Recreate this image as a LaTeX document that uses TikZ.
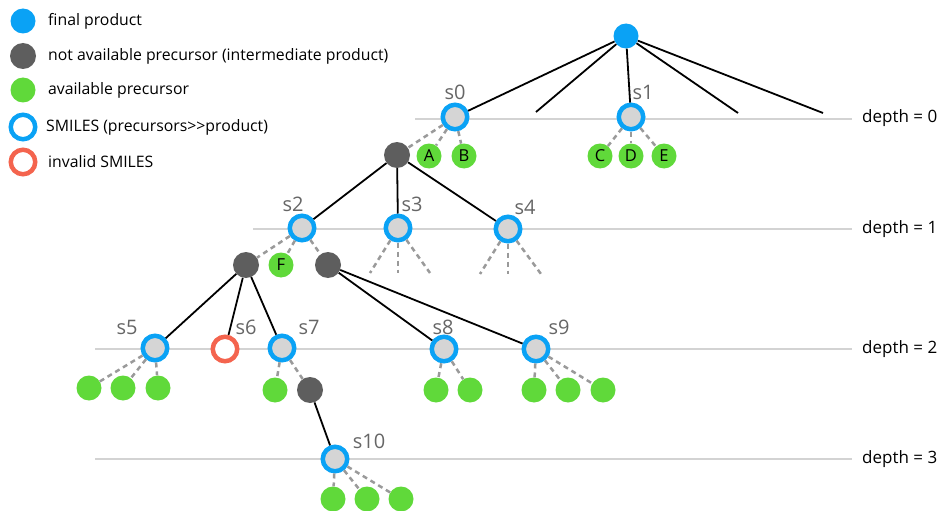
\documentclass[tikz,border=0pt]{standalone}
\usepackage{fontspec}
\setmainfont{Open Sans}
\definecolor{sblue}{HTML}{0AA2F5}
\definecolor{dgray}{HTML}{5E5E5E}
\definecolor{agreen}{HTML}{60D93A}
\definecolor{ored}{HTML}{F4644E}
\definecolor{ringgray}{HTML}{D5D5D5}
\definecolor{lvlgray}{HTML}{D3D3D3}
\definecolor{labgray}{HTML}{666666}
\definecolor{dshgray}{HTML}{9A9A9A}
\tikzset{
  ring/.style={circle, draw=sblue, fill=ringgray, line width=4.5pt, minimum size=24.5pt, inner sep=0pt},
  invalid/.style={circle, draw=ored, fill=white, line width=4.5pt, minimum size=24.5pt, inner sep=0pt},
  avail/.style={circle, fill=agreen, minimum size=25pt, inner sep=0pt, font=\fontsize{16.5}{18}\selectfont},
  inter/.style={circle, fill=dgray, minimum size=26pt, inner sep=0pt},
  final/.style={circle, fill=sblue, minimum size=25pt, inner sep=0pt},
  tree/.style={line width=1.8pt, black},
  dsh/.style={draw=dshgray, dash pattern=on 5pt off 4pt, line width=2.5pt},
  lvl/.style={line width=1.4pt, lvlgray},
  slab/.style={text=labgray, font=\fontsize{20}{22}\selectfont, inner sep=0pt},
  legtext/.style={anchor=west, font=\fontsize{15.8}{18}\selectfont, inner sep=0pt},
  dlab/.style={anchor=west, font=\fontsize{17}{19}\selectfont, inner sep=0pt}
}
\begin{document}
\begin{tikzpicture}[x=1pt, y=-1pt]
\useasboundingbox (0,0) rectangle (938,511);
% depth lines
\coordinate (l0a) at (415,119); \coordinate (l0b) at (852,119);
\coordinate (l1a) at (253,229); \coordinate (l1b) at (852,229);
\coordinate (l2a) at (95,349);  \coordinate (l2b) at (852,349);
\coordinate (l3a) at (95,459);  \coordinate (l3b) at (852,459);
\draw[lvl] (l0a) -- (l0b);
\draw[lvl] (l1a) -- (l1b);
\draw[lvl] (l2a) -- (l2b);
\draw[lvl] (l3a) -- (l3b);
\node[dlab] (dep0) at (862,118) {depth = 0};
\node[dlab] (dep1) at (862,229) {depth = 1};
\node[dlab] (dep2) at (862,349) {depth = 2};
\node[dlab] (dep3) at (862,459) {depth = 3};
% legend
\node[final] (lg1) at (23,21) {};
\node[inter] (lg2) at (23,56) {};
\node[avail] (lg3) at (23,90) {};
\node[ring, fill=white] (lg4) at (23,127) {};
\node[invalid] (lg5) at (23,162) {};
\node[legtext] (lt1) at (48,21) {final product};
\node[legtext] (lt2) at (48,56) {not available precursor (intermediate product)};
\node[legtext] (lt3) at (48,90) {available precursor};
\node[legtext] (lt4) at (46,127) {SMILES (precursors>{}>product)};
\node[legtext] (lt5) at (48,162) {invalid SMILES};
% tree nodes
\node[final] (root) at (626,36) {};
\node[ring] (s0) at (455,117) {};
\node[ring] (s1) at (631,117) {};
\coordinate (r2) at (536,112);
\coordinate (r4) at (738,113);
\coordinate (r5) at (823,113);
\node[inter] (d0) at (397,155) {};
\node[avail] (A) at (429,156) {A};
\node[avail] (B) at (464,156) {B};
\node[avail] (C) at (600,156) {C};
\node[avail] (D) at (631,156) {D};
\node[avail] (E) at (664,156) {E};
\node[ring] (s2) at (302,228) {};
\node[ring] (s3) at (398,228) {};
\node[ring] (s4) at (508,229) {};
\node[inter] (d1) at (246,265) {};
\node[avail] (F) at (281,265) {F};
\node[inter] (d2) at (328,265) {};
\coordinate (t3a) at (370,273); \coordinate (t3b) at (398,273); \coordinate (t3c) at (430,273);
\coordinate (t4a) at (480,274); \coordinate (t4b) at (508,274); \coordinate (t4c) at (541,274);
\node[ring] (s5) at (155,348) {};
\node[invalid] (s6) at (225,349) {};
\node[ring] (s7) at (282,348) {};
\node[ring] (s8) at (444,349) {};
\node[ring] (s9) at (536,349) {};
\node[avail] (g5a) at (89,388) {};
\node[avail] (g5b) at (123,388) {};
\node[avail] (g5c) at (158,388) {};
\node[avail] (g7a) at (275,390) {};
\node[inter] (d3) at (310,390) {};
\node[avail] (g8a) at (436,390) {};
\node[avail] (g8b) at (470,390) {};
\node[avail] (g9a) at (534,390) {};
\node[avail] (g9b) at (568,390) {};
\node[avail] (g9c) at (603,390) {};
\node[ring] (s10) at (335,459) {};
\node[avail] (g10a) at (333,499) {};
\node[avail] (g10b) at (367,499) {};
\node[avail] (g10c) at (401,499) {};
% labels
\node[slab] (ls0) at (455,92) {s0};
\node[slab] (ls1) at (643,92) {s1};
\node[slab] (ls2) at (293,204) {s2};
\node[slab] (ls3) at (412,204) {s3};
\node[slab] (ls4) at (525,207) {s4};
\node[slab] (ls5) at (127,327) {s5};
\node[slab] (ls6) at (246,327) {s6};
\node[slab] (ls7) at (309,327) {s7};
\node[slab] (ls8) at (443,327) {s8};
\node[slab] (ls9) at (559,327) {s9};
\node[slab] (ls10) at (369,441) {s10};
% tree edges
\draw[tree] (root) -- (s0);
\draw[tree] (root) -- (r2);
\draw[tree] (root) -- (s1);
\draw[tree] (root) -- (r4);
\draw[tree] (root) -- (r5);
\draw[tree] (d0) -- (s2);
\draw[tree] (d0) -- (s3);
\draw[tree] (d0) -- (s4);
\draw[tree] (d1) -- (s5);
\draw[tree] (d1) -- (s6);
\draw[tree] (d1) -- (s7);
\draw[tree] (d2) -- (s8);
\draw[tree] (d2) -- (s9);
\draw[tree] (d3) -- (s10);
% dashed edges
\draw[dsh] (s0) -- (d0);
\draw[dsh] (s0) -- (A);
\draw[dsh] (s0) -- (B);
\draw[dsh] (s1) -- (C);
\draw[dsh] (s1) -- (D);
\draw[dsh] (s1) -- (E);
\draw[dsh] (s2) -- (d1);
\draw[dsh] (s2) -- (F);
\draw[dsh] (s2) -- (d2);
\draw[dsh] (s3) -- (t3a);
\draw[dsh] (s3) -- (t3b);
\draw[dsh] (s3) -- (t3c);
\draw[dsh] (s4) -- (t4a);
\draw[dsh] (s4) -- (t4b);
\draw[dsh] (s4) -- (t4c);
\draw[dsh] (s5) -- (g5a);
\draw[dsh] (s5) -- (g5b);
\draw[dsh] (s5) -- (g5c);
\draw[dsh] (s7) -- (g7a);
\draw[dsh] (s7) -- (d3);
\draw[dsh] (s8) -- (g8a);
\draw[dsh] (s8) -- (g8b);
\draw[dsh] (s9) -- (g9a);
\draw[dsh] (s9) -- (g9b);
\draw[dsh] (s9) -- (g9c);
\draw[dsh] (s10) -- (g10a);
\draw[dsh] (s10) -- (g10b);
\draw[dsh] (s10) -- (g10c);
\end{tikzpicture}
\end{document}
